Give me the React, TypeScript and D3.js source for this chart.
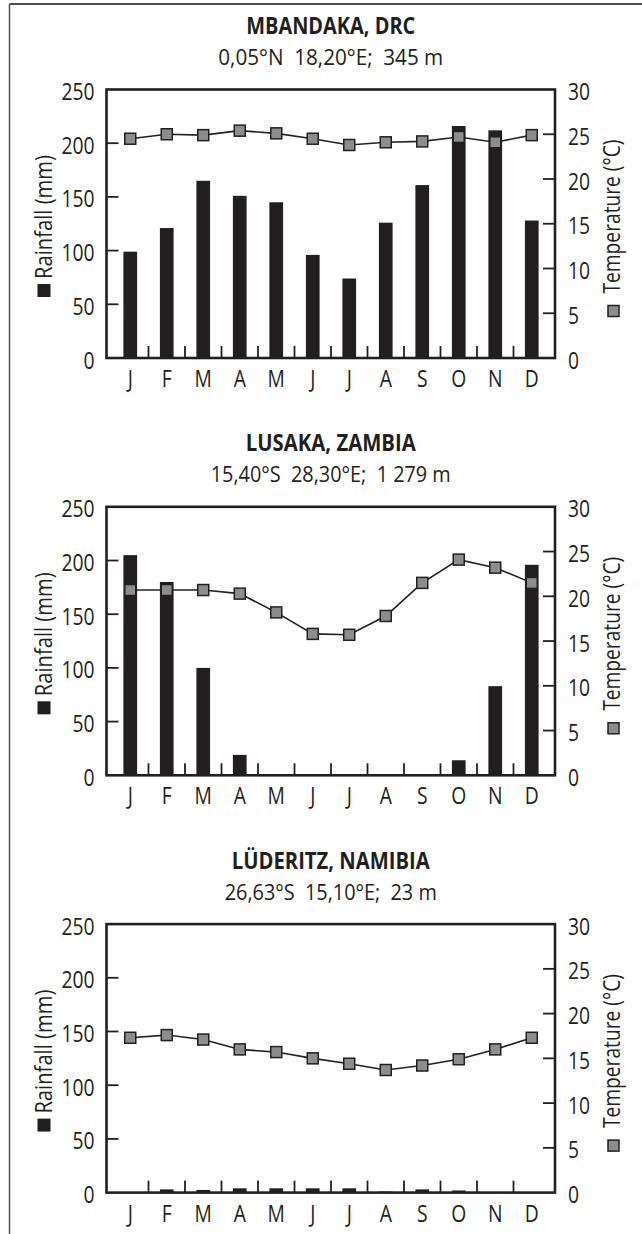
import React from "react";
import * as d3 from "d3";

const monthLabels = ["J", "F", "M", "A", "M", "J", "J", "A", "S", "O", "N", "D"];
const rainTicks = [0, 50, 100, 150, 200, 250];
const tempTicks = [0, 5, 10, 15, 20, 25, 30];

const titles = ["MBANDAKA, DRC", "LUSAKA, ZAMBIA", "LÜDERITZ, NAMIBIA"];
const subtitles = [
  "0,05°N  18,20°E;  345 m",
  "15,40°S  28,30°E;  1 279 m",
  "26,63°S  15,10°E;  23 m",
];

const mbandakaRain = [99, 121, 165, 151, 145, 96, 74, 126, 161, 216, 212, 128];
const mbandakaTemp = [24.5, 25.0, 24.9, 25.4, 25.1, 24.5, 23.8, 24.1, 24.2, 24.7, 24.1, 24.9];

const lusakaRain = [205, 180, 100, 19, 0, 0, 0, 0, 0, 14, 83, 196];
const lusakaTemp = [20.7, 20.7, 20.7, 20.3, 18.2, 15.8, 15.7, 17.8, 21.5, 24.1, 23.2, 21.5];

const luderitzRain = [0, 3, 2.5, 4, 4, 4, 4, 1, 3, 2, 0, 0];
const luderitzTemp = [17.3, 17.6, 17.1, 16.0, 15.7, 15.0, 14.4, 13.7, 14.2, 14.9, 16.0, 17.3];

const rainSeries = [mbandakaRain, lusakaRain, luderitzRain];
const tempSeries = [mbandakaTemp, lusakaTemp, luderitzTemp];

// layout (not data)
const titleWidths = [169, 170, 198];
const subtitleWidths = [225, 240, 212];
const rainLabelW = 124;
const tempLabelW = 154;

const W = 642;
const H = 1234;
const INK = "#231f20";
const GREY = "#8c8d8f";
const FONT = "'Open Sans', 'Noto Sans', sans-serif";
const SX = 0.84;

const L = 106.5;
const R = 555;
const TOP0 = 89.5;
const STEP = 417.3;
const PH = 268.5;

function SText({ x, y, anchor, size = 23, children }: any) {
  return (
    <text
      transform={`translate(${x},${y}) scale(${SX},1)`}
      textAnchor={anchor}
      fontFamily={FONT}
      fontSize={size}
      fill={INK}
    >
      {children}
    </text>
  );
}

function Chart({ idx }: { idx: number }) {
  const top = TOP0 + idx * STEP;
  const bottom = top + PH;
  const rain = rainSeries[idx];
  const temp = tempSeries[idx];
  const months = d3.range(12);
  const x = d3.scaleBand<number>().domain(months).range([L + 5.5, R - 5]).padding(0);
  const barW = 13.7;
  const yR = d3.scaleLinear().domain([0, 250]).range([bottom, top]);
  const yT = d3.scaleLinear().domain([0, 30]).range([bottom, top]);
  const cx = (i: number) => (x(i) as number) + x.bandwidth() / 2;
  const line = d3
    .line<number>()
    .x((_, i) => cx(i))
    .y((d) => yT(d));
  const mid = (L + R) / 2;
  const ms = 11;
  const tw = titleWidths[idx];
  const sw = subtitleWidths[idx];
  return (
    <g>
      <text
        x={mid - tw / 2}
        y={top - 55.5}
        textLength={tw}
        lengthAdjust="spacingAndGlyphs"
        fontFamily={FONT}
        fontWeight="bold"
        fontSize={24}
        fill={INK}
      >
        {titles[idx]}
      </text>
      <text
        x={mid - sw / 2}
        y={top - 24.5}
        textLength={sw}
        lengthAdjust="spacingAndGlyphs"
        fontFamily={FONT}
        fontSize={22}
        fill={INK}
        style={{ whiteSpace: "pre" }}
      >
        {subtitles[idx]}
      </text>
      {rain.map((v, i) => (
        <rect key={"b" + i} x={cx(i) - barW / 2} y={yR(v)} width={barW} height={bottom - yR(v)} fill={INK} />
      ))}
      <path d={line(temp) || ""} fill="none" stroke={INK} strokeWidth={1.6} />
      {temp.map((v, i) => (
        <rect key={"m" + i} x={cx(i) - ms / 2} y={yT(v) - ms / 2} width={ms} height={ms} fill={GREY} stroke={INK} strokeWidth={1.5} />
      ))}
      {months.slice(1).map((i) => (
        <line key={"mt" + i} x1={x(i)} x2={x(i)} y1={bottom} y2={bottom - 12} stroke={INK} strokeWidth={1.8} />
      ))}
      {rainTicks.map((t) => (
        <g key={"rt" + t}>
          {t > 0 && t < 250 && <line x1={L} x2={L + 12} y1={yR(t)} y2={yR(t)} stroke={INK} strokeWidth={1.8} />}
          <SText x={L - 12} y={yR(t) + 10.5} anchor="end">
            {t}
          </SText>
        </g>
      ))}
      {tempTicks.map((t) => (
        <g key={"tt" + t}>
          {t > 0 && t < 30 && <line x1={R - 12} x2={R} y1={yT(t)} y2={yT(t)} stroke={INK} strokeWidth={1.8} />}
          <SText x={R + 13} y={yT(t) + 10.5} anchor="start">
            {t}
          </SText>
        </g>
      ))}
      {monthLabels.map((m, i) => (
        <SText key={"ml" + i} x={cx(i)} y={bottom + 29} anchor="middle">
          {m}
        </SText>
      ))}
      <rect x={L} y={top} width={R - L} height={PH} fill="none" stroke={INK} strokeWidth={2.6} />
      <rect x={37.5} y={top + 194.5} width={13} height={13} fill={INK} />
      <text
        transform={`translate(52,${top + 189.5}) rotate(-90)`}
        textLength={rainLabelW}
        lengthAdjust="spacingAndGlyphs"
        fontFamily={FONT}
        fontSize={24.5}
        fill={INK}
      >
        Rainfall (mm)
      </text>
      <rect x={608} y={top + 216} width={11} height={11} fill={GREY} stroke={INK} strokeWidth={1.5} />
      <text
        transform={`translate(619.5,${top + 204}) rotate(-90)`}
        textLength={tempLabelW}
        lengthAdjust="spacingAndGlyphs"
        fontFamily={FONT}
        fontSize={24.5}
        fill={INK}
      >
        Temperature (°C)
      </text>
    </g>
  );
}

export default function App() {
  return (
    <div style={{ position: "absolute", left: 0, top: 0 }}>
      <svg width={W} height={H} viewBox={`0 0 ${W} ${H}`} style={{ display: "block", background: "#fff" }}>
        <rect x={0} y={0} width={W} height={H} fill="#fff" />
        <line x1={9.5} x2={W} y1={4} y2={4} stroke="#4d4d4d" strokeWidth={2} />
        <line x1={9.5} x2={9.5} y1={4} y2={H} stroke="#4d4d4d" strokeWidth={1.5} />
        {[0, 1, 2].map((i) => (
          <Chart key={i} idx={i} />
        ))}
      </svg>
    </div>
  );
}
